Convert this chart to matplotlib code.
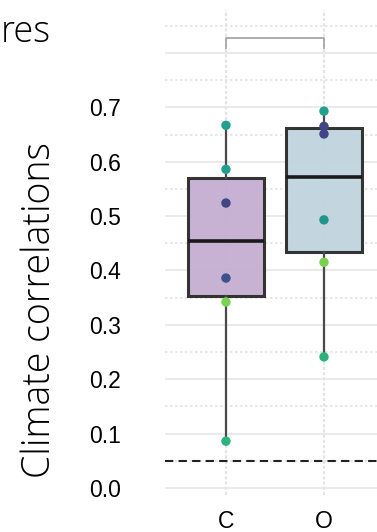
import numpy as np
import matplotlib
matplotlib.use("Agg")
import matplotlib.pyplot as plt

# correlation values per group
groups = ["C", "O"]
c_vals = [0.086, 0.342, 0.386, 0.524, 0.586, 0.667]
o_vals = [0.241, 0.415, 0.493, 0.651, 0.665, 0.693]
c_cols = ["#2db27d", "#7ad151", "#3b528b", "#414487", "#21a08f", "#21a08f"]
o_cols = ["#2db27d", "#7ad151", "#1f968b", "#414487", "#414487", "#21a08f"]
box_fill = ["#c4aed2", "#c0d4df"]
yticks = [0.0, 0.1, 0.2, 0.3, 0.4, 0.5, 0.6, 0.7]
ref_line = 0.05

W, H = 377, 532
fig = plt.figure(figsize=(W / 100, H / 100), dpi=100)
ax = fig.add_axes([165 / W, (H - 495) / H, (W - 165) / W, (495 - 10) / H])

pos = np.arange(len(groups))
ax.set_xlim(-0.622, 1.541)
ax.set_ylim(-0.013, 0.879)

# background grid
for v in np.arange(0.0, 0.9, 0.1):
    ax.axhline(v, color="#e6e6e6", lw=1.2, zorder=0)
for v in np.arange(0.05, 0.9, 0.1):
    ax.axhline(v, color="#e3e3e3", lw=1.2, ls=(0, (1.5, 1.5)), zorder=0)
for p in pos:
    ax.axvline(p, color="#e3e3e3", lw=1.5, ls=(0, (1.5, 1)), zorder=0)

bp = ax.boxplot([c_vals, o_vals], positions=pos, widths=0.77, whis=1.5,
                patch_artist=True, showcaps=False, showfliers=False, zorder=2)
for patch, fc in zip(bp["boxes"], box_fill):
    patch.set_facecolor(fc)
    patch.set_edgecolor("#2a2a2a")
    patch.set_linewidth(2.2)
    patch.set_alpha(0.95)
for m in bp["medians"]:
    m.set_color("#1a1a1a")
    m.set_linewidth(2.6)
for w in bp["whiskers"]:
    w.set_color("#4a4a4a")
    w.set_linewidth(1.6)

ax.scatter([pos[0]] * len(c_vals), c_vals, c=c_cols, s=46, zorder=3, edgecolors="none")
ax.scatter([pos[1]] * len(o_vals), o_vals, c=o_cols, s=46, zorder=3, edgecolors="none")

ax.axhline(ref_line, color="#222222", lw=1.5, ls=(0, (4, 2.5)), zorder=1)

# comparison bracket
ax.plot([pos[0], pos[0], pos[1], pos[1]], [0.809, 0.827, 0.827, 0.809],
        color="#a0a0a0", lw=1.2, zorder=1)

for s in ax.spines.values():
    s.set_visible(False)
ax.set_yticks(yticks)
ax.set_yticklabels([f"{v:.1f}" for v in yticks], fontsize=16.5, family="Liberation Sans")
ax.set_xticks(pos)
ax.set_xticklabels(groups, fontsize=16.5, family="Liberation Sans")
ax.tick_params(axis="y", length=0, pad=32)
ax.tick_params(axis="x", length=0, pad=11)

fig.text(40 / W, (H - 310) / H, "Climate correlations", rotation=90,
         ha="center", va="center", fontsize=27, family="Open Sans", weight="light")
fig.text(1 / W, (H - 42) / H, "res", ha="left", va="baseline",
         fontsize=26, family="Open Sans", weight="light")

fig.savefig("out.png", dpi=100)
